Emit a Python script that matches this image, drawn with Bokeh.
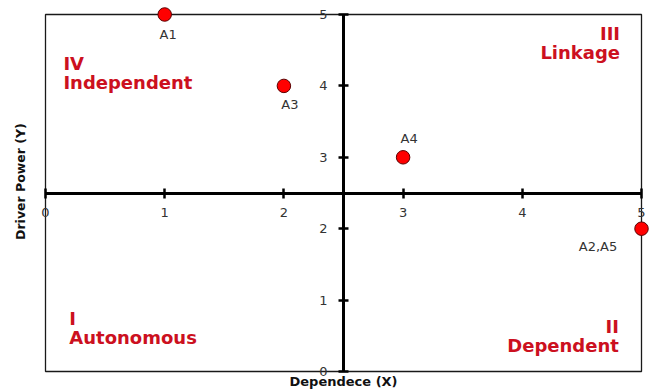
import math
from bokeh.plotting import figure
from bokeh.models import (Range1d, LinearAxis, ColumnDataSource, Label,
                          FixedTicker, BoxAnnotation)
from bokeh.core.properties import value
from bokeh.embed import file_html
from bokeh.resources import INLINE

# ---- data ----
names = ["A1", "A3", "A4", "A2,A5"]
dependence = [1, 2, 3, 5]
driver_power = [5, 4, 3, 2]
tick_values = [0, 1, 2, 3, 4, 5]
quadrant_text = ["IV\nIndependent", "III\nLinkage", "I\nAutonomous", "II\nDependent"]
x_title = "Dependece (X)"
y_title = "Driver Power (Y)"

# ---- styling (label offsets in pixels, quadrant text anchors) ----
label_dx = [3.5, 6, 6, -43.5]
label_dy = [20, 19, -18.5, 17.5]
quad_x = [0.15, 4.82, 0.20, 4.81]
quad_y = [4.465, 4.88, 0.89, 0.775]
quad_align = ["left", "right", "left", "right"]

FONT = "DejaVu Sans"
RED = "#cc1020"
GREY = "#333333"

W, H = 660, 390
# pixel mapping: x 0->45px, 5->641px ; y 5->14px, 0->371px
ux = (641 - 45) / 5.0
uy = (371 - 14) / 5.0
x_rng = Range1d(-45 / ux, (W - 45) / ux)
y_rng = Range1d(-(H - 371) / uy, 5 + 14 / uy)

p = figure(width=W, height=H, output_backend="svg", toolbar_location=None,
           x_range=x_rng, y_range=y_rng,
           x_axis_type=None, y_axis_type=None,
           min_border=0)
p.outline_line_color = None
p.background_fill_color = "white"
p.border_fill_color = "white"

p.add_layout(BoxAnnotation(left=0, right=5, bottom=0, top=5, fill_color=None,
                           line_color="#000000", line_width=1.3, line_alpha=0.9,
                           level="underlay"))

ticker = FixedTicker(ticks=tick_values)
xa = LinearAxis(ticker=ticker, fixed_location=2.5, bounds=(0, 5))
ya = LinearAxis(ticker=ticker, fixed_location=2.5, bounds=(0, 5))
for ax in (xa, ya):
    ax.axis_line_width = 3
    ax.axis_line_color = "black"
    ax.major_tick_line_width = 2.5
    ax.major_tick_line_color = "black"
    ax.major_tick_in = 5
    ax.major_tick_out = 5
    ax.minor_tick_line_color = None
    ax.major_label_text_font = FONT
    ax.major_label_text_font_size = "13px"
    ax.major_label_text_color = GREY
xa.major_label_standoff = 10
ya.major_label_standoff = 11
p.add_layout(xa, "below")
p.add_layout(ya, "left")

src = ColumnDataSource(dict(x=dependence, y=driver_power, name=names,
                            dx=label_dx, dy=label_dy))
p.scatter("x", "y", source=src, size=13.5, fill_color="#ff0000",
          line_color="#5a0000", line_width=1)
p.text("x", "y", text="name", source=src, x_offset="dx", y_offset="dy",
       text_align="center", text_baseline="middle",
       text_font=value(FONT), text_font_size="13px", text_color=GREY)

qsrc = ColumnDataSource(dict(x=quad_x, y=quad_y, t=quadrant_text, a=quad_align))
p.text("x", "y", text="t", source=qsrc, text_align="a", text_baseline="top",
       text_font=value(FONT), text_font_style="bold", text_font_size="18px",
       text_color=RED, text_line_height=0.9)

p.add_layout(Label(x=2.5, y=-0.14, text=x_title, text_align="center",
                   text_baseline="middle", text_font=FONT, text_font_size="13px",
                   text_font_style="bold", text_color="#111111"))
p.add_layout(Label(x=-0.21, y=2.66, text=y_title, angle=math.pi / 2,
                   text_align="center", text_baseline="middle", text_font=FONT,
                   text_font_size="12.5px", text_font_style="bold",
                   text_color="#111111"))

open("out.html", "w").write(file_html(p, INLINE))
